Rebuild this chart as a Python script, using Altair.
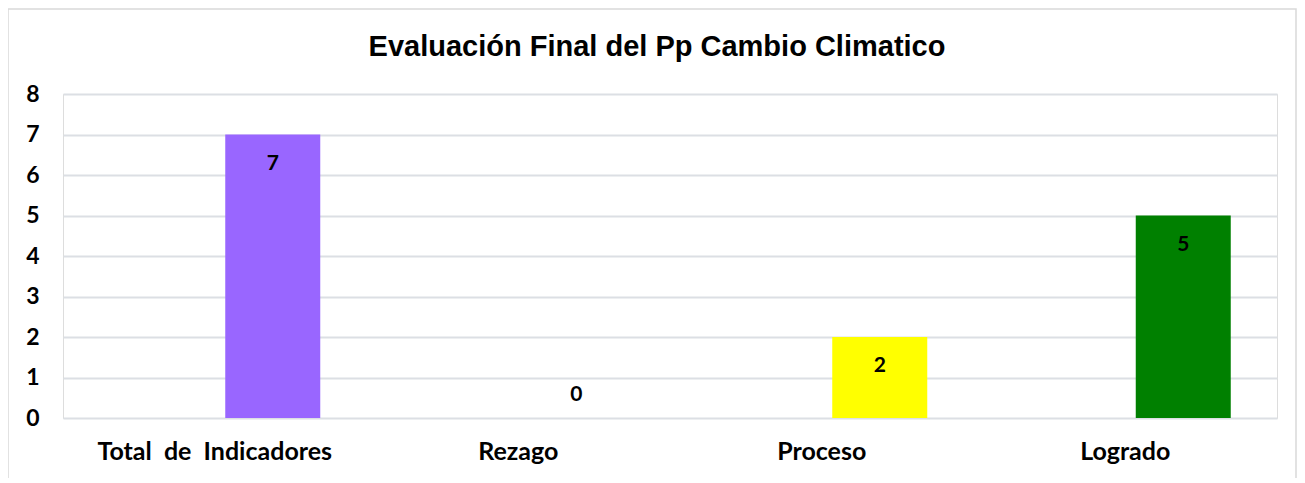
import altair as alt
import pandas as pd

categories = ["Total\u00a0 de\u00a0 Indicadores", "Rezago", "Proceso", "Logrado"]
values = [7, 0, 2, 5]
colors = ["#9966FF", "#FFFFFF", "#FFFF00", "#008000"]

df = pd.DataFrame({"cat": categories, "val": values, "color": colors})

W, H = 1214, 324
FONT = "Lato"

x_enc = alt.X("cat:N", sort=categories, title=None,
              axis=alt.Axis(labelAngle=0, labelFont=FONT, labelFontWeight="bold",
                            labelFontSize=25, labelColor="#000000", labelPadding=21,
                            labelLimit=0, ticks=False, domain=False))
y_enc = alt.Y("val:Q", title=None, scale=alt.Scale(domain=[0, 8]),
              axis=alt.Axis(values=list(range(9)), labelFont=FONT, labelFontWeight="bold",
                            labelFontSize=23, labelColor="#000000", labelPadding=24,
                            ticks=False, domain=False, gridColor="#DCDFE4", gridWidth=2))

base = alt.Chart(df)

bars = base.mark_bar(width=95, xOffset=58).encode(
    x=x_enc, y=y_enc,
    color=alt.Color("color:N", scale=None),
)

labels_pos = base.transform_filter("datum.val > 0").mark_text(
    xOffset=58, dy=29, font=FONT, fontWeight="bold", fontSize=21, color="#000000"
).encode(x=alt.X("cat:N", sort=categories), y="val:Q", text="val:Q")

labels_zero = base.transform_filter("datum.val == 0").mark_text(
    xOffset=58, dy=-23, font=FONT, fontWeight="bold", fontSize=21, color="#000000"
).encode(x=alt.X("cat:N", sort=categories), y="val:Q", text="val:Q")

border = alt.Chart(pd.DataFrame({"a": [0]})).mark_rect(
    fill=None, stroke="#D9D9D9", strokeWidth=1.5
).encode(x=alt.value(-55), x2=alt.value(W + 19), y=alt.value(-85), y2=alt.value(H + 80))

chart = alt.layer(border, bars, labels_pos, labels_zero).properties(
    width=W, height=H,
    title=alt.TitleParams("Evaluación Final del Pp Cambio Climatico",
                          font="Liberation Sans", fontSize=29, fontWeight="bold",
                          color="#000000", anchor="middle", offset=0, dy=77, dx=-13,
                          baseline="alphabetic"),
    autosize=alt.AutoSizeParams(type="none"),
    padding={"left": 55, "top": 86, "right": 20, "bottom": 60},
).configure_view(stroke=None).configure(background="#FFFFFF")

chart.save("out.html", embed_options={"renderer": "svg", "actions": False})
